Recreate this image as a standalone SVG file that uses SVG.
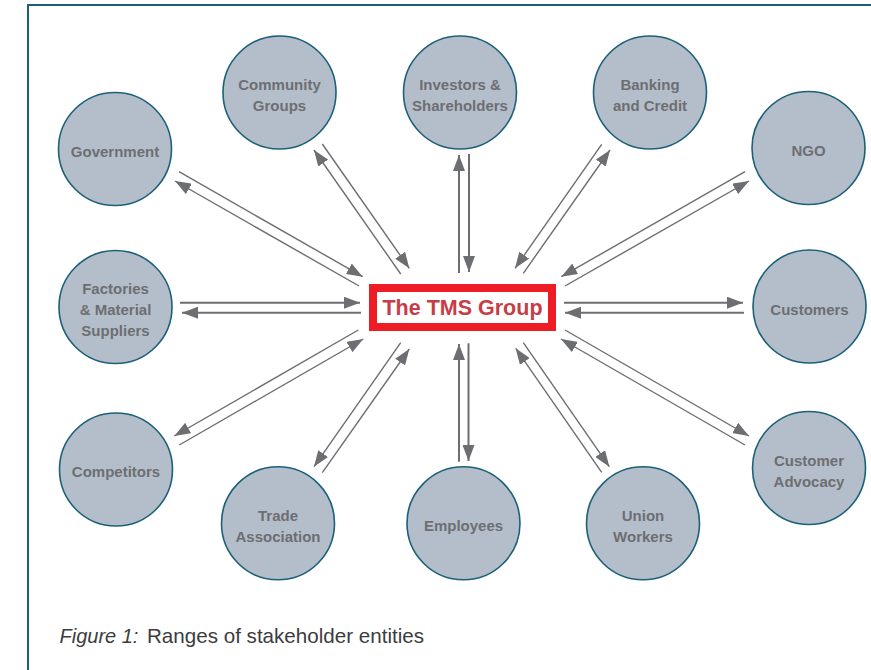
<svg xmlns="http://www.w3.org/2000/svg" width="871" height="670" viewBox="0 0 871 670">
<defs>
<style>
.node circle{fill:#b4becb;stroke:#1c6079;stroke-width:1.6}
.node text{font-family:"Liberation Sans",Arial,sans-serif;font-weight:bold;font-size:15px;fill:#6d6e71;text-anchor:middle}
.conn line{stroke:#6d6e71;stroke-width:1.4;marker-end:url(#ah)}
.conn line.thick{stroke-width:2}
.frame{stroke:#1d5f78;stroke-width:2;fill:none}
.cap{font-family:"Liberation Sans",Arial,sans-serif;font-size:20px;fill:#3c3c3e}
</style>
<marker id="ah" markerUnits="userSpaceOnUse" markerWidth="16" markerHeight="12" refX="16" refY="6" orient="auto">
<path d="M0,0 L16,6 L0,12 z" fill="#6d6e71"/>
</marker>
</defs>
<rect x="0" y="0" width="871" height="670" fill="#ffffff"/>
<path class="frame" d="M28,670 L28,5 L871,5"/>

<g id="connectors" class="conn">
<line class="thick" x1="180" y1="302.7" x2="360" y2="302.7"/>
<line class="thick" x1="361" y1="312.7" x2="182" y2="312.7"/>
<line class="thick" x1="564" y1="302.7" x2="743" y2="302.7"/>
<line class="thick" x1="744" y1="312.7" x2="565" y2="312.7"/>
<line class="thick" x1="459" y1="273" x2="459" y2="155"/>
<line class="thick" x1="469" y1="154" x2="469" y2="272"/>
<line class="thick" x1="459" y1="461.7" x2="459" y2="344"/>
<line class="thick" x1="468.5" y1="343.3" x2="468.5" y2="461"/>
<line x1="179" y1="171.7" x2="362.7" y2="276.7"/>
<line x1="359" y1="286" x2="175" y2="181"/>
<line x1="400.7" y1="274" x2="314" y2="150"/>
<line x1="322.3" y1="144" x2="409.3" y2="268.3"/>
<line x1="601.7" y1="144.3" x2="515" y2="268.3"/>
<line x1="523.3" y1="273.3" x2="610" y2="150"/>
<line x1="745" y1="171.7" x2="561.3" y2="276.7"/>
<line x1="565" y1="286" x2="749" y2="181"/>
<line x1="565" y1="330" x2="749" y2="436"/>
<line x1="745" y1="445" x2="561" y2="339"/>
<line x1="601.7" y1="472.3" x2="515.7" y2="348.3"/>
<line x1="523.3" y1="342.7" x2="609.3" y2="466.7"/>
<line x1="400.7" y1="342.7" x2="314" y2="466.7"/>
<line x1="322.3" y1="472.7" x2="409.3" y2="349"/>
<line x1="358.3" y1="330" x2="174.3" y2="436"/>
<line x1="179.3" y1="445" x2="363.3" y2="339"/>
</g>

<g id="center">
<rect x="373" y="288" width="179" height="39" fill="#ffffff" stroke="#ee1c25" stroke-width="8"/>
<text x="462.5" y="315" font-family="'Liberation Sans',Arial,sans-serif" font-weight="bold" font-size="21.5" fill="#c73d46" text-anchor="middle">The TMS Group</text>
</g>

<g id="government" class="node"><circle cx="115" cy="149" r="56.5"/><text x="115" y="156.5">Government</text></g>
<g id="community" class="node"><circle cx="279.5" cy="92.5" r="56.5"/><text x="279.5" y="90">Community</text><text x="279.5" y="111">Groups</text></g>
<g id="investors" class="node"><circle cx="460" cy="92.5" r="56.5"/><text x="460" y="90">Investors &amp;</text><text x="460" y="111">Shareholders</text></g>
<g id="banking" class="node"><circle cx="650" cy="92.5" r="56.5"/><text x="650" y="90">Banking</text><text x="650" y="111">and Credit</text></g>
<g id="ngo" class="node"><circle cx="808.5" cy="148" r="56.5"/><text x="808.5" y="155.5">NGO</text></g>
<g id="factories" class="node"><circle cx="115.5" cy="307" r="56.5"/><text x="115.5" y="293.5">Factories</text><text x="115.5" y="315">&amp; Material</text><text x="115.5" y="336">Suppliers</text></g>
<g id="customers" class="node"><circle cx="809.5" cy="306.5" r="56.5"/><text x="809.5" y="314.5">Customers</text></g>
<g id="competitors" class="node"><circle cx="116" cy="469.5" r="56.5"/><text x="116" y="477">Competitors</text></g>
<g id="customer-advocacy" class="node"><circle cx="809" cy="468" r="56.5"/><text x="809" y="466">Customer</text><text x="809" y="486.5">Advocacy</text></g>
<g id="trade-association" class="node"><circle cx="278" cy="523.3" r="56.5"/><text x="278" y="521">Trade</text><text x="278" y="542">Association</text></g>
<g id="employees" class="node"><circle cx="463.5" cy="523.3" r="56.5"/><text x="463.5" y="531">Employees</text></g>
<g id="union-workers" class="node"><circle cx="643" cy="523.3" r="56.5"/><text x="643" y="521">Union</text><text x="643" y="542">Workers</text></g>

<text class="cap" x="59.5" y="643"><tspan font-style="italic">Figure 1:</tspan><tspan x="147" font-size="20.6">Ranges of stakeholder entities</tspan></text>
</svg>
